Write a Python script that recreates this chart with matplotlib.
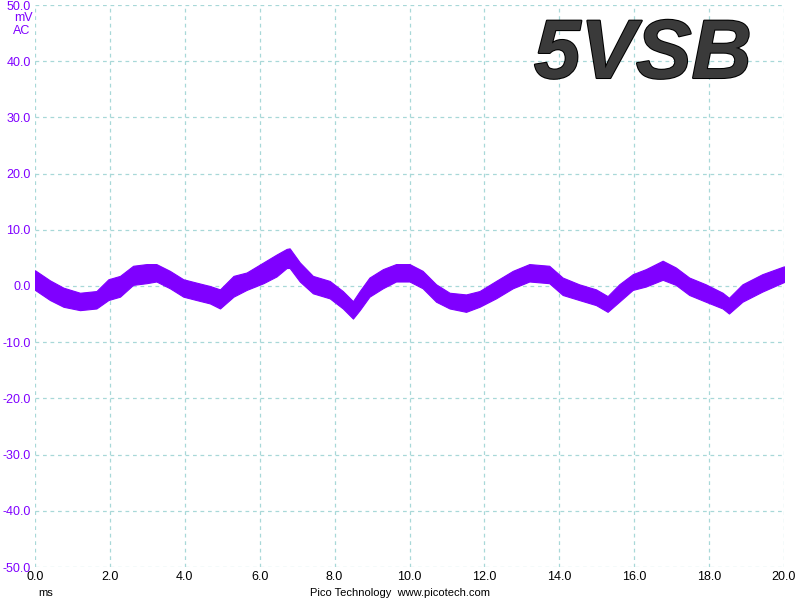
import matplotlib.pyplot as plt
import matplotlib.patheffects as pe
import numpy as np

# time (ms) and envelope of the noisy trace (mV)
t = [0.0, 0.4, 0.76, 1.2, 1.64, 1.96, 2.27, 2.62, 2.98, 3.24, 3.6, 3.96, 4.31, 4.67,
     4.94, 5.3, 5.65, 6.1, 6.45, 6.72, 6.8, 7.07, 7.42, 7.87, 8.22, 8.49, 8.67, 8.93,
     9.29, 9.64, 10.0, 10.35, 10.71, 11.07, 11.51, 11.87, 12.31, 12.76, 13.2, 13.73,
     14.09, 14.53, 14.98, 15.29, 15.6, 15.96, 16.31, 16.76, 17.11, 17.47, 17.91,
     18.36, 18.53, 18.89, 19.42, 20.0]
upper = [2.8, 1.0, -0.3, -1.2, -0.9, 1.2, 1.8, 3.6, 3.9, 3.9, 2.7, 1.2, 0.6, 0.0,
         -0.6, 1.8, 2.4, 4.2, 5.6, 6.6, 6.7, 4.2, 1.8, 0.9, -0.9, -2.7, -0.9, 1.5,
         3.0, 3.9, 3.9, 2.7, 0.3, -1.2, -1.5, -0.9, 0.9, 2.7, 3.9, 3.6,
         1.5, 0.3, -0.6, -1.8, 0.3, 2.1, 3.0, 4.5, 3.3, 1.5, 0.3,
         -1.2, -2.1, 0.3, 2.1, 3.5]
lower = [-0.7, -2.5, -3.7, -4.3, -4.0, -2.5, -1.9, 0.2, 0.5, 0.8, -0.4, -1.9, -2.5, -3.1,
         -4.0, -1.9, -0.7, 0.5, 1.7, 3.2, 3.2, 0.8, -1.3, -2.2, -4.0, -5.8, -4.3, -1.9,
         -0.4, 0.8, 0.8, -0.4, -2.8, -4.0, -4.6, -3.7, -2.2, -0.4, 0.8, 0.5,
         -1.6, -2.5, -3.4, -4.6, -2.8, -0.7, -0.1, 1.1, 0.2, -1.6, -2.8,
         -4.0, -4.9, -2.8, -1.0, 0.7]

yticks = np.arange(-50, 51, 10)
xticks = np.arange(0, 21, 2)

purple = "#7f00ff"

fig = plt.figure(figsize=(8, 6), dpi=100)
ax = fig.add_axes([35/800, 33/600, 749/800, 562/600])

ax.fill_between(t, lower, upper, color=purple, lw=0.8, edgecolor=purple)

ax.set_xlim(0, 20)
ax.set_ylim(-50, 50)
ax.set_xticks(xticks)
ax.set_yticks(yticks)
ax.set_xticklabels(["%.1f" % v for v in xticks], fontsize=9, family="Liberation Sans")
ax.set_yticklabels(["%.1f" % v for v in yticks], fontsize=9, family="Liberation Sans",
                   color=purple)
ax.tick_params(length=0, pad=3)
for s in ax.spines.values():
    s.set_visible(False)
ax.grid(True, color="#a8d8d8", ls=(0, (3, 3)), lw=0.9)
ax.set_axisbelow(True)

fig.text(33/800, 1 - 18/600, "mV", color=purple, fontsize=9, family="Liberation Sans",
         ha="right", va="center")
fig.text(30/800, 1 - 31/600, "AC", color=purple, fontsize=9, family="Liberation Sans",
         ha="right", va="center")
fig.text(38/800, 1 - 593/600, "ms", fontsize=8, family="Liberation Sans", va="center")
fig.text(400/800, 1 - 593/600, "Pico Technology  www.picotech.com", fontsize=8,
         family="Liberation Sans", ha="center", va="center")

# big label, dark grey face with black rim to hint at the shaded lettering
fig.text(643/800, 1 - 56/600, "5VSB", fontsize=60, family="Liberation Sans",
         weight="bold", style="italic", color="#3a3a3a", ha="center", va="center",
         path_effects=[pe.withStroke(linewidth=1.5, foreground="#000000")])

fig.savefig("out.png", dpi=100)
